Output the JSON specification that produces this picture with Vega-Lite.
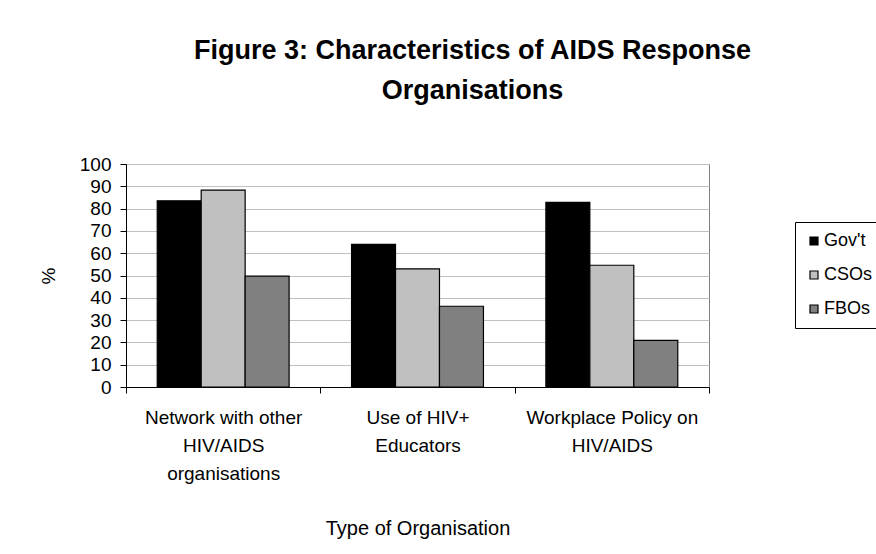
{
  "$schema": "https://vega.github.io/schema/vega-lite/v6.json",
  "autosize": {"type": "none"},
  "padding": {"left": 126, "top": 164, "right": 167, "bottom": 167},
  "width": 583,
  "height": 223,
  "background": "white",
  "title": {
    "text": ["Figure 3: Characteristics of AIDS Response", "Organisations"],
    "font": "Liberation Sans",
    "fontSize": 27,
    "fontWeight": "bold",
    "color": "black",
    "lineHeight": 40,
    "anchor": "middle",
    "frame": "group",
    "dx": 55,
    "offset": 50
  },
  "data": {
    "values": [
      {"q": "Network with other|HIV/AIDS|organisations", "org": "Gov't", "pct": 83.5},
      {"q": "Network with other|HIV/AIDS|organisations", "org": "CSOs", "pct": 88.3},
      {"q": "Network with other|HIV/AIDS|organisations", "org": "FBOs", "pct": 49.7},
      {"q": "Use of HIV+|Educators", "org": "Gov't", "pct": 64.0},
      {"q": "Use of HIV+|Educators", "org": "CSOs", "pct": 53.0},
      {"q": "Use of HIV+|Educators", "org": "FBOs", "pct": 36.2},
      {"q": "Workplace Policy on|HIV/AIDS", "org": "Gov't", "pct": 82.8},
      {"q": "Workplace Policy on|HIV/AIDS", "org": "CSOs", "pct": 54.6},
      {"q": "Workplace Policy on|HIV/AIDS", "org": "FBOs", "pct": 20.9}
    ]
  },
  "mark": {"type": "bar", "stroke": "black", "strokeWidth": 1.2},
  "encoding": {
    "x": {
      "field": "q",
      "type": "nominal",
      "sort": null,
      "scale": {"paddingInner": 0, "paddingOuter": 0},
      "axis": {
        "title": "Type of Organisation",
        "labelAngle": 0,
        "labelExpr": "split(datum.label, '|')",
        "labelFont": "Liberation Sans",
        "labelFontSize": 19,
        "labelColor": "black",
        "labelLineHeight": 28,
        "labelPadding": 15,
        "labelBaseline": "top",
        "tickBand": "extent",
        "tickColor": "black",
        "tickSize": 6,
        "domainColor": "black",
        "titleFont": "Liberation Sans",
        "titleFontSize": 20,
        "titleFontWeight": "normal",
        "titleColor": "black",
        "titlePadding": 35
      }
    },
    "xOffset": {
      "field": "org",
      "type": "nominal",
      "sort": ["Gov't", "CSOs", "FBOs"],
      "scale": {"paddingInner": 0, "paddingOuter": 0.71}
    },
    "y": {
      "field": "pct",
      "type": "quantitative",
      "scale": {"domain": [0, 100]},
      "axis": {
        "title": "%",
        "values": [0, 10, 20, 30, 40, 50, 60, 70, 80, 90, 100],
        "labelFont": "Liberation Sans",
        "labelFontSize": 19,
        "labelColor": "black",
        "labelPadding": 9,
        "tickColor": "black",
        "tickSize": 6,
        "domainColor": "black",
        "gridColor": "#c0c0c0",
        "titleFont": "Liberation Sans",
        "titleFontSize": 19,
        "titleFontWeight": "normal",
        "titleColor": "black",
        "titlePadding": 21
      }
    },
    "color": {
      "field": "org",
      "type": "nominal",
      "sort": ["Gov't", "CSOs", "FBOs"],
      "scale": {"domain": ["Gov't", "CSOs", "FBOs"], "range": ["#000000", "#c0c0c0", "#808080"]},
      "legend": {
        "title": null,
        "orient": "none",
        "legendX": 669,
        "legendY": 58,
        "strokeColor": "black",
        "padding": 10,
        "symbolType": "square",
        "symbolSize": 64,
        "symbolStrokeColor": "black",
        "symbolStrokeWidth": 1.2,
        "symbolOpacity": 1,
        "labelFont": "Liberation Sans",
        "labelFontSize": 18,
        "labelColor": "black",
        "labelOffset": 1,
        "rowPadding": 16,
        "fillColor": "white"
      }
    }
  },
  "config": {
    "view": {"stroke": "#808080", "strokeWidth": 1},
    "axis": {"gridColor": "#c0c0c0"}
  }
}
